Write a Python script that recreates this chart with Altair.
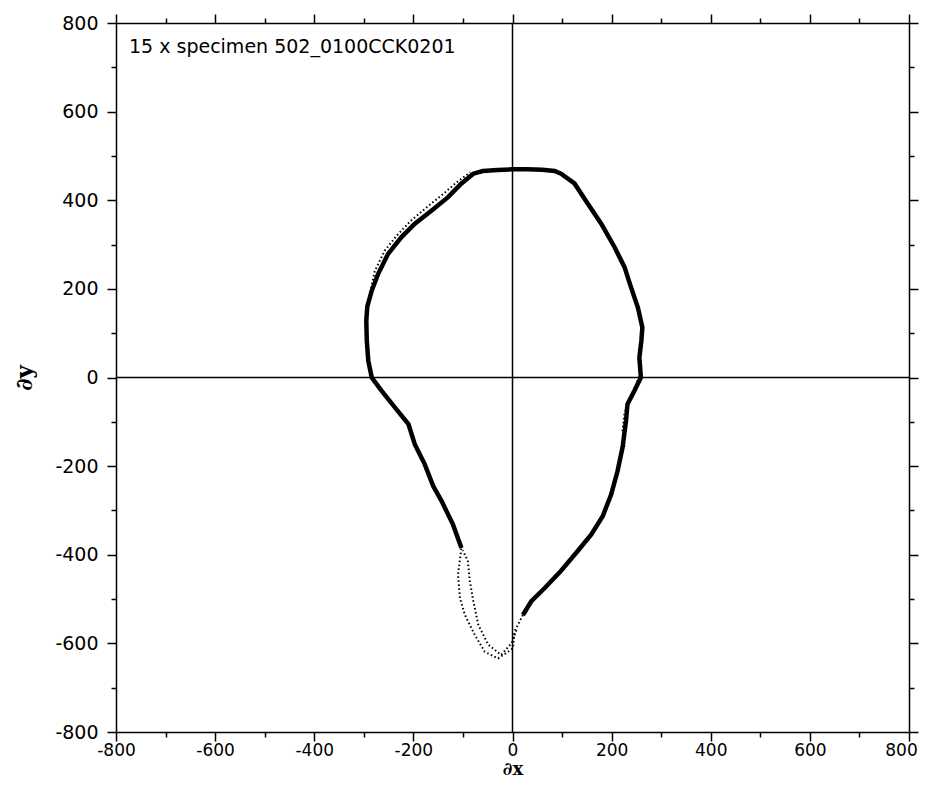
import altair as alt
import pandas as pd

# main band of the outline (clockwise, from lower-left branch)
main_x = [-103, -120, -143, -160, -177, -197, -210, -237, -264, -284, -291, -294, -295, -293,
          -284, -271, -251, -224, -197, -163, -130, -103, -79, -60, -30, 0, 30, 60, 85, 98,
          125, 152, 179, 206, 226, 239, 253, 262, 260, 256, 259, 246, 232, 229, 222, 212,
          199, 182, 159, 132, 98, 65, 38, 21]
main_y = [-385, -332, -279, -245, -196, -151, -105, -68, -30, 0, 38, 83, 128, 160,
          196, 234, 279, 317, 347, 377, 407, 438, 460, 466, 468, 470, 470, 469, 466, 460,
          438, 392, 347, 294, 249, 204, 158, 113, 83, 45, 0, -30, -60, -98, -158, -211,
          -264, -313, -354, -391, -436, -475, -505, -536]

# scattered lower lobe (outer and inner passes)
lobe_out_x = [21, 4, 1, -9, -29, -56, -76, -96, -106, -110, -103]
lobe_out_y = [-536, -573, -611, -619, -634, -619, -581, -536, -498, -445, -385]
lobe_in_x = [8, -2, -23, -49, -69, -79, -86, -90, -100]
lobe_in_y = [-570, -600, -626, -603, -558, -505, -460, -415, -390]

# outer scattered pass on upper-left side
band_x = [-290, -278, -258, -232, -205, -172, -140, -110, -85]
band_y = [175, 240, 286, 322, 354, 385, 414, 443, 463]

# second pass on the right side just below the x axis
rband_x = [259, 240, 226, 222, 226]
rband_y = [10, -40, -80, -120, -160]

title_text = "15 x specimen 502_0100CCK0201"
ticks = list(range(-800, 801, 100))


def frame(xs, ys, name):
    return pd.DataFrame({"x": xs, "y": ys, "i": list(range(len(xs))), "trace": name})


main_df = frame(main_x, main_y, "main")
dot_df = pd.concat([frame(lobe_out_x, lobe_out_y, "lobe_out"),
                    frame(lobe_in_x, lobe_in_y, "lobe_in"),
                    frame(band_x, band_y, "band"),
                    frame(rband_x, rband_y, "rband")])

dom = [-800, 800]
FONT = "DejaVu Sans"
major = "datum.value % 200 === 0"
tick_size = {"condition": {"test": major, "value": 9}, "value": 5}
lab = "datum.value % 200 === 0 ? '' + datum.value : ''"

x_bottom = alt.Axis(values=ticks, labelExpr=lab, tickSize=tick_size, title="∂x",
                    orient="bottom", grid=False, labelFontSize=17, labelFont=FONT,
                    labelPadding=1,
                    labelOffset={"condition": {"test": "datum.value === 800", "value": -8}, "value": 0},
                    titleFont="DejaVu Serif", titleFontSize=18,
                    titleFontWeight="bold", titlePadding=2, labelFlush=False)
y_left = alt.Axis(values=ticks, labelExpr=lab, tickSize=tick_size, title="∂y",
                  orient="left", grid=False, labelFontSize=19, labelFont=FONT,
                  labelPadding=9, titleFont="DejaVu Serif", titleFontSize=23,
                  titleFontWeight="bold", titlePadding=18, labelFlush=False)
x_top = alt.Axis(values=ticks, labels=False, tickSize=tick_size, title=None,
                 orient="top", grid=False)
y_right = alt.Axis(values=ticks, labels=False, tickSize=tick_size, title=None,
                   orient="right", grid=False)

xs = alt.Scale(domain=dom, nice=False, zero=False)
ys = alt.Scale(domain=dom, nice=False, zero=False)

vrule = alt.Chart(pd.DataFrame({"x": [0]})).mark_rule(color="black", strokeWidth=1.5).encode(
    x=alt.X("x:Q", scale=xs, axis=x_bottom))
hrule = alt.Chart(pd.DataFrame({"y": [0]})).mark_rule(color="black", strokeWidth=1.5).encode(
    y=alt.Y("y:Q", scale=ys, axis=y_left))

main_line = alt.Chart(main_df).mark_line(color="black", strokeWidth=4.5).encode(
    x=alt.X("x:Q", scale=xs, axis=x_top),
    y=alt.Y("y:Q", scale=ys, axis=y_right),
    order="i:Q")

dots = alt.Chart(dot_df).mark_line(color="black", strokeWidth=2, strokeDash=[1.5, 2.5]).encode(
    x=alt.X("x:Q", scale=xs, axis=None),
    y=alt.Y("y:Q", scale=ys, axis=None),
    detail="trace:N",
    order="i:Q")

label = alt.Chart(pd.DataFrame({"t": [title_text]})).mark_text(
    align="left", baseline="middle", fontSize=19, font=FONT, color="black").encode(
    x=alt.value(13), y=alt.value(24), text="t:N")

chart = alt.layer(vrule, hrule, main_line, dots, label).resolve_axis(
    x="independent", y="independent").properties(
    width=793, height=709, autosize="none",
    padding={"left": 108, "top": 15, "right": 10, "bottom": 51}).configure_view(
    stroke=None).configure_axis(
    domainColor="black", domainWidth=1.5, tickColor="black", tickWidth=1.5,
    labelColor="black", titleColor="black")

chart.save("out.html", embed_options={"renderer": "svg", "actions": False})
